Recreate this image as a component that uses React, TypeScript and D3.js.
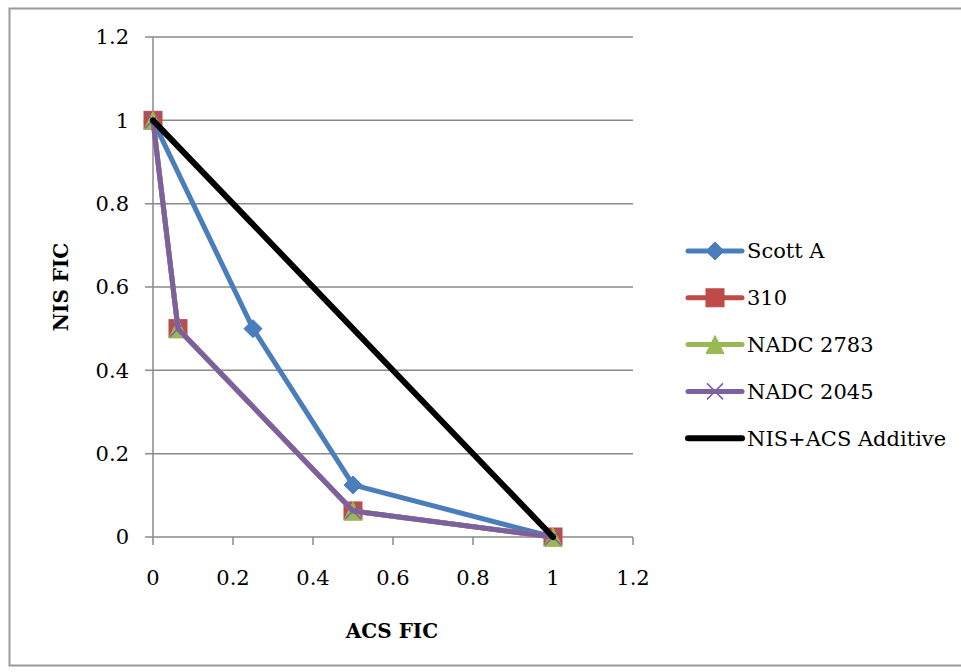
import React from "react";
import * as d3 from "d3";

const xTicks = [0, 0.2, 0.4, 0.6, 0.8, 1, 1.2];
const yTicks = [0, 0.2, 0.4, 0.6, 0.8, 1, 1.2];
const tickLabels = ["0", "0.2", "0.4", "0.6", "0.8", "1", "1.2"];

const seriesNames = ["Scott A", "310", "NADC 2783", "NADC 2045", "NIS+ACS Additive"];
const seriesColors = ["#4A7EBB", "#BE4B48", "#98B954", "#7D60A0", "#000000"];
const seriesMarkers = ["diamond", "square", "triangle", "x", "none"];

const scottA = [
  { x: 0, y: 1 },
  { x: 0.25, y: 0.5 },
  { x: 0.5, y: 0.125 },
  { x: 1, y: 0 },
];
const s310 = [
  { x: 0, y: 1 },
  { x: 0.0625, y: 0.5 },
  { x: 0.5, y: 0.0625 },
  { x: 1, y: 0 },
];
const nadc2783 = [
  { x: 0, y: 1 },
  { x: 0.0625, y: 0.5 },
  { x: 0.5, y: 0.0625 },
  { x: 1, y: 0 },
];
const nadc2045 = [
  { x: 0, y: 1 },
  { x: 0.0625, y: 0.5 },
  { x: 0.5, y: 0.0625 },
  { x: 1, y: 0 },
];
const additive = [
  { x: 0, y: 1 },
  { x: 1, y: 0 },
];

const seriesData = [scottA, s310, nadc2783, nadc2045, additive];

const FONT = "'DejaVu Serif', 'Liberation Serif', serif";

function Marker({ type, color, x, y }: { type: string; color: string; x: number; y: number }) {
  if (type === "diamond") {
    const r = 9;
    return (
      <path
        d={`M${x},${y - r}L${x + r},${y}L${x},${y + r}L${x - r},${y}Z`}
        fill={color}
        stroke={color}
        strokeWidth={1}
      />
    );
  }
  if (type === "square") {
    const r = 9;
    return <rect x={x - r} y={y - r} width={2 * r} height={2 * r} fill={color} stroke={color} strokeWidth={1} />;
  }
  if (type === "triangle") {
    const r = 9;
    return (
      <path d={`M${x},${y - r}L${x + r},${y + r}L${x - r},${y + r}Z`} fill={color} stroke={color} strokeWidth={1} />
    );
  }
  if (type === "x") {
    const r = 8;
    return (
      <path
        d={`M${x - r},${y - r}L${x + r},${y + r}M${x - r},${y + r}L${x + r},${y - r}`}
        stroke={color}
        strokeWidth={1.5}
        fill="none"
      />
    );
  }
  return null;
}

export default function App() {
  const width = 961;
  const height = 672;
  const x = d3.scaleLinear().domain([0, 1.2]).range([153, 633]);
  const y = d3.scaleLinear().domain([0, 1.2]).range([537, 37]);
  const line = d3
    .line<{ x: number; y: number }>()
    .x((d) => x(d.x))
    .y((d) => y(d.y));

  const legendX0 = 688;
  const legendX1 = 742;
  const legendY0 = 251;
  const legendStep = 46.8;

  return (
    <svg
      width={width}
      height={height}
      style={{ position: "absolute", left: 0, top: 0, background: "#fff" }}
      fontFamily={FONT}
    >
      <rect x={9.5} y={8.5} width={960} height={657} fill="#fff" stroke="#9a9a9a" strokeWidth={2} />
      {/* gridlines */}
      {yTicks.map((t) => (
        <line key={"g" + t} x1={x(0) - 8} x2={x(1.2)} y1={y(t)} y2={y(t)} stroke="#8a8a8a" strokeWidth={1.5} />
      ))}
      {/* y axis */}
      <line x1={x(0)} x2={x(0)} y1={y(0)} y2={y(1.2)} stroke="#8a8a8a" strokeWidth={1.5} />
      {/* x axis ticks */}
      {xTicks.map((t) => (
        <line key={"xt" + t} x1={x(t)} x2={x(t)} y1={y(0)} y2={y(0) + 8} stroke="#8a8a8a" strokeWidth={1.5} />
      ))}
      {/* tick labels */}
      {yTicks.map((t, i) => (
        <text key={"yl" + t} x={129} y={y(t)} dy="0.35em" textAnchor="end" fontSize={21} fill="#000">
          {tickLabels[i]}
        </text>
      ))}
      {xTicks.map((t, i) => (
        <text key={"xl" + t} x={x(t)} y={578} dy="0.35em" textAnchor="middle" fontSize={21} fill="#000">
          {tickLabels[i]}
        </text>
      ))}
      {/* axis titles */}
      <text x={392} y={631} dy="0.35em" textAnchor="middle" fontSize={20} fontWeight="bold">
        ACS FIC
      </text>
      <text
        transform={`translate(61,287) rotate(-90)`}
        dy="0.35em"
        textAnchor="middle"
        fontSize={20}
        fontWeight="bold"
      >
        NIS FIC
      </text>
      {/* series */}
      {seriesData.map((data, i) => (
        <g key={seriesNames[i]}>
          <path
            d={line(data) || ""}
            fill="none"
            stroke={seriesColors[i]}
            strokeWidth={i === 4 ? 6 : 5}
            strokeLinejoin="round"
            strokeLinecap="round"
          />
          {data.map((d, j) => (
            <Marker key={j} type={seriesMarkers[i]} color={seriesColors[i]} x={x(d.x)} y={y(d.y)} />
          ))}
        </g>
      ))}
      {/* legend */}
      {seriesNames.map((name, i) => {
        const ly = legendY0 + i * legendStep;
        return (
          <g key={"lg" + name}>
            <line
              x1={legendX0}
              x2={legendX1}
              y1={ly}
              y2={ly}
              stroke={seriesColors[i]}
              strokeWidth={i === 4 ? 6 : 5}
              strokeLinecap="round"
            />
            <Marker type={seriesMarkers[i]} color={seriesColors[i]} x={(legendX0 + legendX1) / 2} y={ly} />
            <text x={747} y={ly} dy="0.35em" fontSize={21} fill="#000">
              {name}
            </text>
          </g>
        );
      })}
    </svg>
  );
}
